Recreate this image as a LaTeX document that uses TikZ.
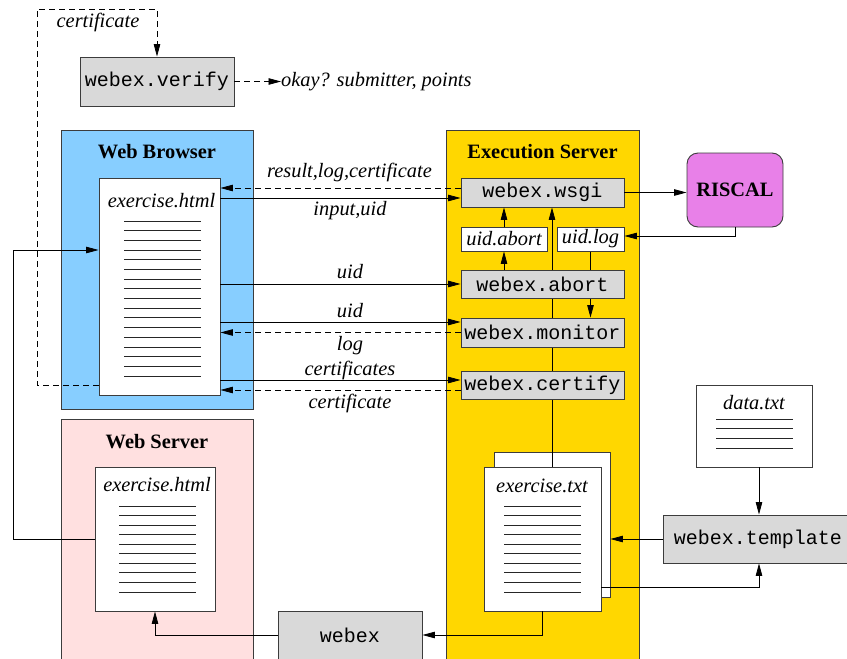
\documentclass[tikz,border=0pt]{standalone}
\usepackage{fontspec}
\setmainfont{Liberation Serif}
\setmonofont{Liberation Mono}
\usetikzlibrary{arrows.meta}
\pgfdeclarelayer{bg}
\pgfdeclarelayer{mid}
\pgfsetlayers{bg,mid,main}
\definecolor{browserblue}{RGB}{135,206,255}
\definecolor{serverpink}{RGB}{255,224,224}
\definecolor{execgold}{RGB}{255,215,0}
\definecolor{riscalviolet}{RGB}{232,128,232}
\definecolor{boxgray}{RGB}{217,217,217}
\definecolor{edgegray}{RGB}{60,60,60}
\begin{document}
\begin{tikzpicture}[x=1pt,y=-1pt,
  every node/.style={font=\fontsize{20.4}{24}\selectfont},
  container/.style={draw=edgegray,line width=0.9pt,inner sep=0pt},
  progbox/.style={draw=edgegray,fill=boxgray,line width=0.9pt,inner sep=0pt,font=\fontsize{20}{24}\selectfont\ttfamily},
  filebox/.style={draw=edgegray,fill=white,line width=0.9pt,inner sep=0pt},
  lbl/.style={font=\fontsize{20.4}{24}\selectfont\itshape,inner sep=0pt},
  ttl/.style={font=\fontsize{20.4}{24}\selectfont\bfseries,inner sep=0pt},
  conn/.style={line width=0.8pt,black},
  arr/.style={-{Triangle[length=12.5pt,width=6.5pt]}},
  dsh/.style={dash pattern=on 6pt off 4pt},
  docline/.style={line width=0.8pt,black!85},
]
\useasboundingbox (0,0) rectangle (847,659);

% containers
\begin{pgfonlayer}{bg}
\node[container,fill=browserblue,minimum width=192pt,minimum height=279pt] (browser) at (157,269.5) {};
\node[container,fill=serverpink,minimum width=192pt,minimum height=246pt] (wserver) at (157,542) {};
\node[container,fill=execgold,minimum width=193pt,minimum height=535pt] (exec) at (542.5,397.5) {};
\node[filebox,minimum width=116pt,minimum height=145pt] (txtback) at (552,524.5) {};
\end{pgfonlayer}

\node[ttl] (tbrowser) at (157,152) {Web Browser};
\node[ttl] (texec) at (542.5,152) {Execution Server};
\node[ttl] (tserver) at (157,442) {Web Server};

% documents
\node[filebox,minimum width=121pt,minimum height=217pt] (bdoc) at (159.5,286.5) {};
\node[lbl] (tbdoc) at (161.5,201) {exercise.html};
\foreach \i in {0,...,16} \draw[docline] (124,{221+\i*9.6875}) -- (201,{221+\i*9.6875});

\node[filebox,minimum width=120pt,minimum height=144pt] (sdoc) at (155,539) {};
\node[lbl] (tsdoc) at (157,485) {exercise.html};
\foreach \i in {0,...,9} \draw[docline] (119,{506+\i*9.556}) -- (196,{506+\i*9.556});

\node[filebox,minimum width=117pt,minimum height=144pt] (txtfront) at (542.5,539) {};
\node[lbl] (ttxt) at (542,486) {exercise.txt};
\foreach \i in {0,...,9} \draw[docline] (504,{506+\i*9.556}) -- (581,{506+\i*9.556});

\node[filebox,minimum width=116pt,minimum height=82pt] (data) at (754,426) {};
\node[lbl] (tdata) at (754,403) {data.txt};
\foreach \i in {0,...,3} \draw[docline] (716,{419+\i*9.67}) -- (793,{419+\i*9.67});

% programs
\node[progbox,minimum width=154pt,minimum height=49pt] (verify) at (157,81.5) {webex.verify};
\node[progbox,minimum width=163pt,minimum height=29pt] (wsgi) at (542.5,192.5) {webex.wsgi};
\node[filebox,lbl,minimum width=86pt,minimum height=24pt] (uabort) at (504,239) {uid.abort};
\node[filebox,lbl,minimum width=67pt,minimum height=24pt] (ulog) at (590.5,239) {uid.log};
\node[progbox,minimum width=163pt,minimum height=28pt] (wabort) at (542.5,284) {webex.abort};
\node[progbox,minimum width=163pt,minimum height=29pt] (wmon) at (542.5,332.5) {webex.monitor};
\node[progbox,minimum width=163pt,minimum height=28pt] (wcert) at (542.5,385) {webex.certify};
\node[draw=edgegray,line width=0.9pt,fill=riscalviolet,rounded corners=11pt,minimum width=96pt,minimum height=74pt,ttl] (riscal) at (735,190) {RISCAL};
\node[progbox,minimum width=144pt,minimum height=60pt] (webex) at (350,641) {};
\node[font=\fontsize{20}{24}\selectfont\ttfamily,inner sep=0pt] (twebex) at (350,635) {webex};
\node[progbox,minimum width=190pt,minimum height=48pt] (template) at (758,539) {webex.template};

\node[lbl,anchor=west] (okay) at (281,81.5) {okay? submitter, points};

% connectors behind boxes
\begin{pgfonlayer}{mid}
\draw[conn,arr] ([xshift=9.5pt]txtfront.north) -- ([xshift=9.5pt]txtfront.north |- wsgi.south);
\draw[conn,arr] (ulog.south) -- (ulog.south |- wmon.north);
\end{pgfonlayer}

% browser <-> execution server
\draw[conn,dsh,arr] ([yshift=4.5pt]wsgi.west) -- ([yshift=4.5pt]wsgi.west -| bdoc.east);
\node[lbl] (l1) at (349.5,172) {result,log,certificate};
\draw[conn,arr] ([yshift=-5.5pt]wsgi.west -| bdoc.east) -- ([yshift=-5.5pt]wsgi.west);
\node[lbl] (l2) at (350,211) {input,uid};
\draw[conn,arr] (wabort.west -| bdoc.east) -- (wabort.west);
\node[lbl] (l3) at (350,272) {uid};
\draw[conn,arr] ([yshift=10.5pt]wmon.west -| bdoc.east) -- ([yshift=10.5pt]wmon.west);
\node[lbl] (l4) at (350,311) {uid};
\draw[conn,dsh,arr] (wmon.west) -- (wmon.west -| bdoc.east);
\node[lbl] (l5) at (350,346) {log};
\draw[conn,arr] ([yshift=5pt]wcert.west -| bdoc.east) -- ([yshift=5pt]wcert.west);
\node[lbl] (l6) at (350,370) {certificates};
\draw[conn,dsh,arr] ([yshift=-5pt]wcert.west) -- ([yshift=-5pt]wcert.west -| bdoc.east);
\node[lbl] (l7) at (350,403) {certificate};

% inside execution server
\draw[conn,arr] (uabort.north) -- (uabort.north |- wsgi.south);
\draw[conn,arr] (uabort.south |- wabort.north) -- (uabort.south);
\draw[conn,arr] (wsgi.east) -- (wsgi.east -| riscal.west);
\draw[conn,arr] (riscal.south) |- ([yshift=3pt]ulog.east);

% certificate verification
\coordinate (cc) at (37,9);
\draw[conn,dsh,arr] ([yshift=-98.5pt]bdoc.west) -| (cc) -| (verify.north);
\node[lbl] (l8) at (98,22) {certificate};
\draw[conn,dsh,arr] (verify.east) -- (okay.west);

% web server to browser
\coordinate (cl) at (13,250);
\draw[conn,arr] (sdoc.west) -| (cl) -- ([yshift=36.5pt]bdoc.west);
\draw[conn,arr] ([yshift=6pt]webex.west) -| (sdoc.south);
\draw[conn,arr] (txtfront.south) |- ([yshift=6pt]webex.east);

% template
\draw[conn,arr] ([xshift=5pt]data.south) -- ([xshift=5pt]data.south |- template.north);
\draw[conn,arr] (template.west) -- (template.west -| txtback.east);
\draw[conn,arr] ([yshift=-48pt]txtfront.east) -| ([xshift=1pt]template.south);
\end{tikzpicture}
\end{document}
